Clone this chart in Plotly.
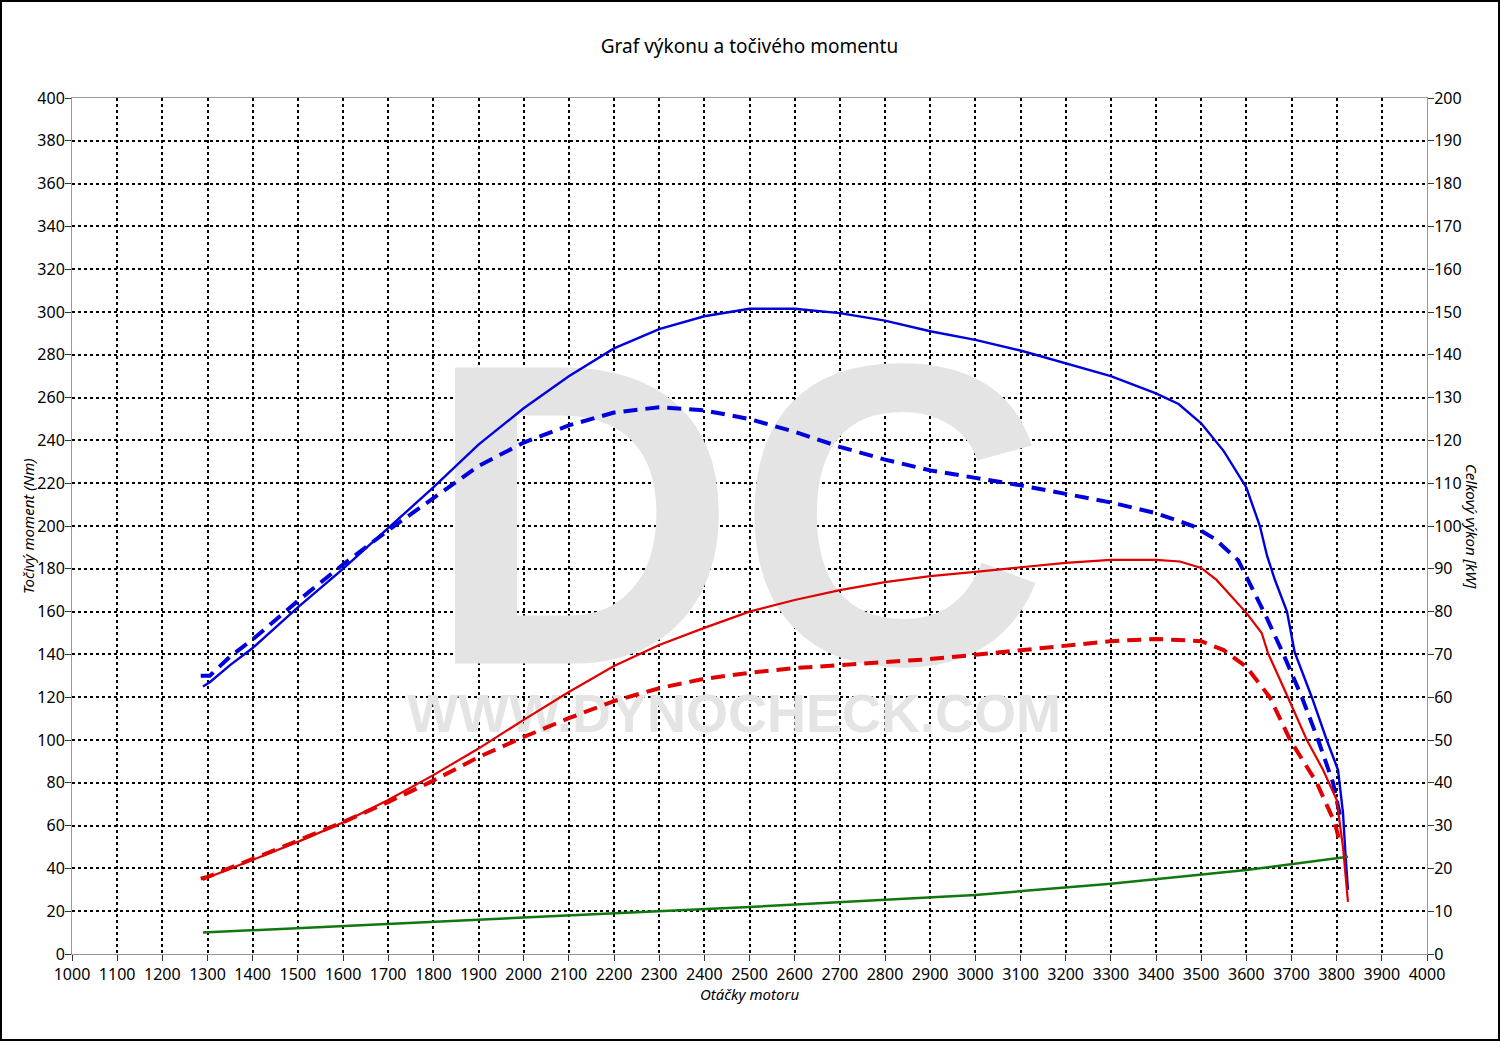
import plotly.graph_objects as go

# ---- data ----
rpm_torque_tuned = [1290, 1305, 1350, 1400, 1500, 1600, 1700, 1800, 1900, 2000, 2100, 2200, 2300, 2400,
                    2500, 2600, 2700, 2800, 2900, 3000, 3100, 3200, 3300, 3400, 3450, 3500, 3550, 3600,
                    3630, 3646, 3663, 3690, 3707, 3745, 3778, 3803, 3814, 3820, 3825]
torque_tuned = [125, 127, 135, 143, 162, 180, 199, 218, 238, 255, 270, 283, 292, 298,
                301.5, 301.5, 299.5, 296, 291, 287, 282, 276, 270, 262, 257, 248, 235, 218,
                200, 186, 175, 160, 141, 120, 100, 86, 66, 45, 30]

rpm_torque_stock = [1285, 1305, 1350, 1400, 1500, 1600, 1700, 1800, 1900, 2000, 2100, 2200, 2300, 2400,
                    2500, 2600, 2700, 2800, 2900, 3000, 3100, 3200, 3300, 3400, 3453, 3482, 3530, 3582,
                    3641, 3681, 3723, 3759, 3792, 3808]
torque_stock = [130, 130, 139, 147, 165, 182, 198, 213, 228, 239, 247, 253, 255.5, 254,
                250, 244, 237, 231, 226, 222.5, 219, 215, 211, 206, 202, 200, 194, 184,
                159, 140.6, 120, 100, 80, 64]

rpm_power_tuned = [1290, 1300, 1400, 1500, 1600, 1700, 1800, 1900, 2000, 2100, 2200, 2300, 2400, 2500,
                   2600, 2700, 2800, 2900, 3000, 3100, 3200, 3300, 3400, 3453, 3500, 3534, 3600, 3634,
                   3648, 3692, 3734, 3770, 3800, 3814, 3825]
power_tuned = [17.3, 17.8, 22, 26.2, 30.7, 36, 41.8, 48, 54.7, 61.2, 67.3, 72.2, 76.2, 80,
               82.7, 85, 86.9, 88.3, 89.3, 90.4, 91.4, 92.1, 92.1, 91.7, 90.2, 87.4, 79.7, 75,
               70.3, 60, 50, 43, 36, 25, 12.2]

rpm_power_stock = [1285, 1300, 1400, 1500, 1600, 1700, 1800, 1900, 2000, 2100, 2200, 2300, 2400, 2500,
                   2600, 2700, 2800, 2900, 3000, 3100, 3200, 3300, 3400, 3468, 3500, 3550, 3600, 3652,
                   3697, 3756, 3796, 3807]
power_stock = [17.6, 18, 22.2, 26.5, 30.8, 35.5, 40.5, 46, 50.7, 55.1, 59.1, 62.1, 64.3, 65.7,
               66.8, 67.5, 68.2, 68.9, 69.9, 71, 72.2, 73.1, 73.6, 73.4, 73.1, 71, 67.1, 60,
               50, 40, 30.6, 26]

rpm_loss = [1290, 1500, 1700, 2000, 2500, 3000, 3300, 3453, 3600, 3825]
power_loss = [5.0, 6.0, 7.0, 8.5, 11.0, 13.8, 16.4, 18.0, 19.6, 22.7]

x_ticks = list(range(1000, 4001, 100))
y_ticks_left = list(range(0, 401, 20))
y_ticks_right = list(range(0, 201, 10))

title_text = "Graf výkonu a točivého momentu"
x_title = "Otáčky motoru"
y_title_left = "Točivý moment (Nm)"
y_title_right = "Celkový výkon [kW]"
watermark_big = "DC"
watermark_small = "WWW.DYNOCHECK.COM"

FONT = "Noto Sans"
BLUE = "#0000dd"
RED = "#e00000"
GREEN = "#117711"
WM = "#e4e4e4"

fig = go.Figure()

# watermark (drawn first so the curves sit on top)
fig.add_trace(go.Scatter(x=[2472], y=[186], mode="text", text=[watermark_big], yaxis="y",
                         textfont=dict(family="Liberation Sans", size=430, color=WM, weight="bold"),
                         hoverinfo="skip", showlegend=False))
fig.add_trace(go.Scatter(x=[2466], y=[110], mode="text", text=[watermark_small], yaxis="y",
                         textfont=dict(family="Liberation Sans", size=54, color=WM, weight="bold"),
                         hoverinfo="skip", showlegend=False))

fig.add_trace(go.Scatter(x=rpm_loss, y=power_loss, yaxis="y2", mode="lines",
                         line=dict(color=GREEN, width=2.5), showlegend=False))
fig.add_trace(go.Scatter(x=rpm_power_stock, y=power_stock, yaxis="y2", mode="lines",
                         line=dict(color=RED, width=4, dash="14px,8px"), showlegend=False))
fig.add_trace(go.Scatter(x=rpm_power_tuned, y=power_tuned, yaxis="y2", mode="lines",
                         line=dict(color=RED, width=2.2), showlegend=False))
fig.add_trace(go.Scatter(x=rpm_torque_stock, y=torque_stock, yaxis="y", mode="lines",
                         line=dict(color=BLUE, width=4, dash="14px,8px"), showlegend=False))
fig.add_trace(go.Scatter(x=rpm_torque_tuned, y=torque_tuned, yaxis="y", mode="lines",
                         line=dict(color=BLUE, width=2.4), showlegend=False))

L, R, T, B = 72, 73, 98, 87
W, H = 1500, 1041
pw, ph = W - L - R, H - T - B

axis_common = dict(showline=True, linecolor="#999999", linewidth=1,
                   ticks="outside", ticklen=6, tickcolor="#333333", tickwidth=1,
                   tickfont=dict(family=FONT, size=16, color="black"), zeroline=False)

fig.update_layout(
    width=W, height=H,
    margin=dict(l=L, r=R, t=T, b=B),
    paper_bgcolor="white", plot_bgcolor="white",
    title=dict(text=title_text, x=0.5, xanchor="center", xref="paper",
               y=1 - 46 / H, yref="container", yanchor="middle",
               font=dict(family=FONT, size=19, color="black")),
    xaxis=dict(range=[1000, 4000], tickvals=x_ticks, ticktext=[str(v) for v in x_ticks],
               showgrid=True, gridcolor="black", griddash="3px,3px", gridwidth=1.6,
               mirror=True, **axis_common),
    yaxis=dict(range=[0, 400], tickvals=y_ticks_left, ticktext=[str(v) for v in y_ticks_left],
               showgrid=True, gridcolor="black", griddash="3px,3px", gridwidth=1.6,
               ticklabelstandoff=-3, **axis_common),
    yaxis2=dict(range=[0, 200], tickvals=y_ticks_right, ticktext=[str(v) for v in y_ticks_right],
                overlaying="y", side="right", showgrid=False, ticklabelstandoff=-3, **axis_common),
    annotations=[
        dict(text=x_title, xref="paper", yref="paper", x=0.5, y=-(994 - (T + ph)) / ph,
             xanchor="center", yanchor="middle", showarrow=False,
             font=dict(family=FONT, size=15, color="black", style="italic")),
        dict(text=y_title_left, xref="paper", yref="paper", x=-(L - 28) / pw, y=0.5,
             xanchor="center", yanchor="middle", showarrow=False, textangle=-90,
             font=dict(family=FONT, size=15, color="black", style="italic")),
        dict(text=y_title_right, xref="paper", yref="paper", x=1 + (1472 - (L + pw)) / pw, y=0.5,
             xanchor="center", yanchor="middle", showarrow=False, textangle=90,
             font=dict(family=FONT, size=15, color="black", style="italic")),
    ],
    shapes=[
        dict(type="rect", xref="paper", yref="paper",
             x0=-(L - 1) / pw, x1=1 + (R - 1) / pw, y0=-(B - 1) / ph, y1=1 + (T - 1) / ph,
             line=dict(color="black", width=2), fillcolor="rgba(0,0,0,0)", layer="above"),
    ],
)

fig.write_html("out.html", config={"displayModeBar": False},
               post_script="document.body.style.margin='0';document.body.style.padding='0';")
